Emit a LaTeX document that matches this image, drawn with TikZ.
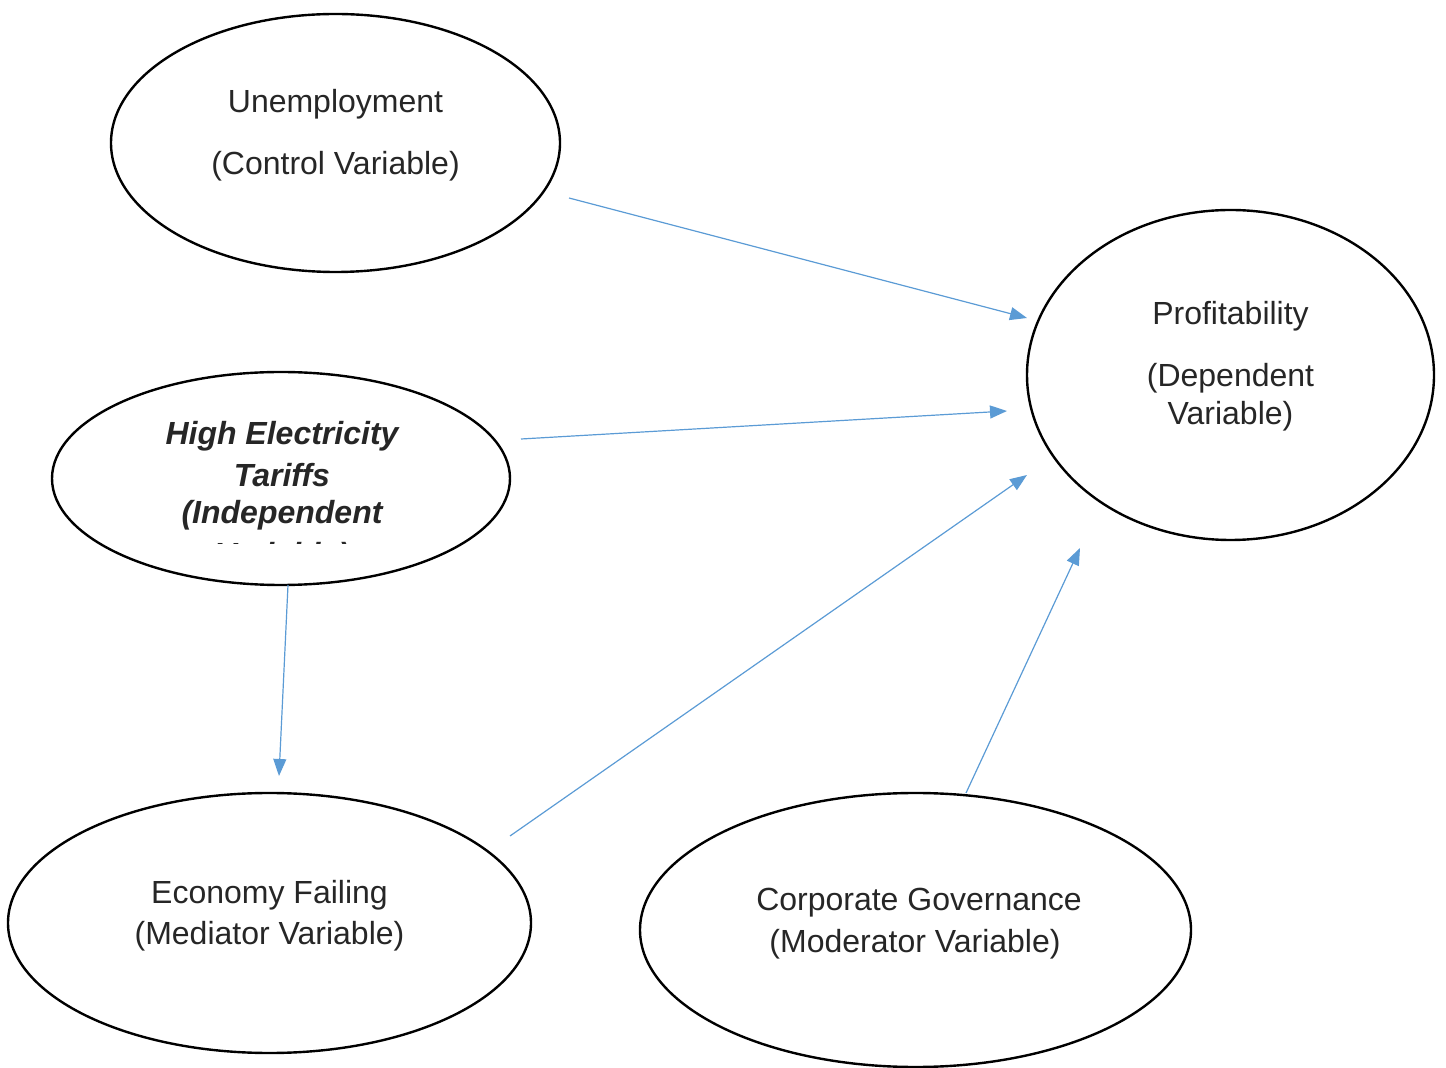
\documentclass[tikz,border=0pt]{standalone}
\usepackage{fontspec}
\setmainfont{Liberation Sans}
\usetikzlibrary{shapes.geometric,arrows.meta}
\definecolor{arrowblue}{HTML}{5B9BD5}
\definecolor{txtgray}{HTML}{262626}
\tikzset{
  oval/.style={ellipse, draw=black, line width=1.2pt, inner sep=0pt},
  lbl/.style={text=txtgray, inner sep=0pt, font=\fontsize{16}{19}\selectfont},
  blbl/.style={lbl, font=\fontsize{16}{19}\selectfont\bfseries\itshape},
  link/.style={draw=arrowblue, line width=0.6pt, -{Triangle[length=8.5pt,width=6.5pt]}}
}
\begin{document}
\begin{tikzpicture}[x=0.5pt,y=-0.5pt]
\useasboundingbox (0,0) rectangle (1446,1068);
% ellipses
\node[oval, minimum width=224.5pt, minimum height=129pt] (unemp) at (335.5,143) {};
\node[oval, minimum width=229pt, minimum height=106.5pt] (tariff) at (281,478.5) {};
\node[oval, minimum width=261.5pt, minimum height=130pt] (econ) at (269.5,923) {};
\node[oval, minimum width=275.5pt, minimum height=137pt] (gov) at (915.5,930) {};
\node[oval, minimum width=203.5pt, minimum height=165pt] (profit) at (1230.5,375) {};
% texts
\node[lbl] (unempA) at (335.5,104) {Unemployment};
\node[lbl] (unempB) at (335.5,166) {(Control Variable)};
\node[lbl] (profA) at (1230.5,316) {Profitability};
\node[lbl] (profB) at (1230.5,378) {(Dependent};
\node[lbl] (profC) at (1230.5,416) {Variable)};
\node[blbl] (tarA) at (282,436) {High Electricity};
\node[blbl] (tarB) at (282,475) {Tariffs};
\node[blbl] (tarC) at (282,515) {(Independent};
\begin{scope}
\clip (0,0) rectangle (1446,544);
\node[blbl] (tarD) at (282,557) {Variable)};
\end{scope}
\node[lbl] (econA) at (269.5,895) {Economy Failing};
\node[lbl] (econB) at (269.5,936) {(Mediator Variable)};
\node[lbl] (govA) at (919,903) {Corporate Governance};
\node[lbl] (govB) at (915,944) {(Moderator Variable)};
% connector ends
\coordinate (s1) at (569,198);  \coordinate (e1) at (1027,318);
\coordinate (s2) at (521,439);  \coordinate (e2) at (1007,411);
\coordinate (s3) at (510,836);  \coordinate (e3) at (1027,475);
\coordinate (s4) at (966,793);  \coordinate (e4) at (1080,548);
\coordinate (s5) at (288,585);  \coordinate (e5) at (279,776);
\draw[link] (s1) -- (e1);
\draw[link] (s2) -- (e2);
\draw[link] (s3) -- (e3);
\draw[link] (s4) -- (e4);
\draw[link] (s5) -- (e5);
\end{tikzpicture}
\end{document}
